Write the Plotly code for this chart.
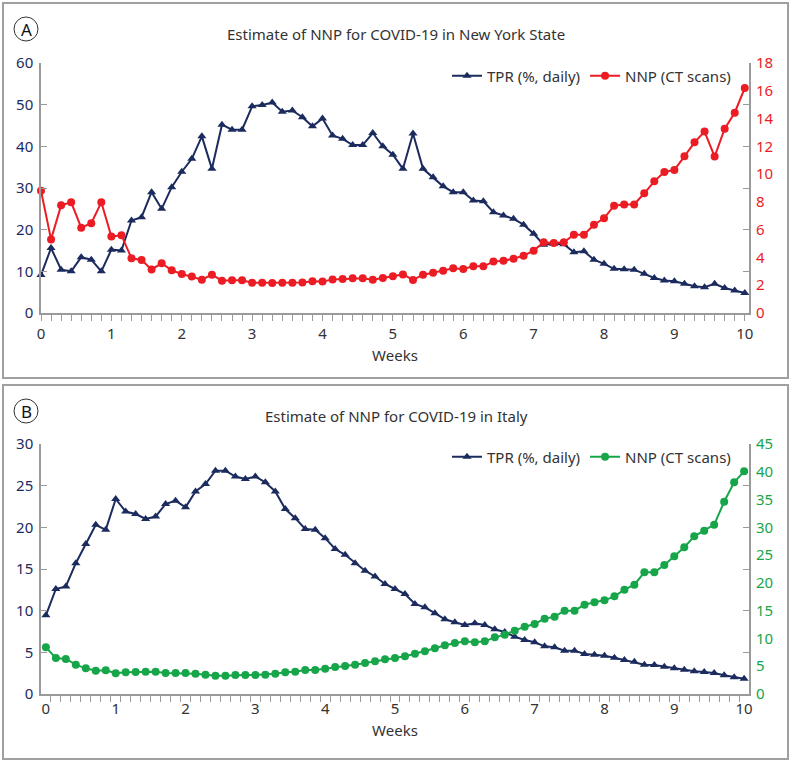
import plotly.graph_objects as go

W, H = 792, 763

# daily points, shown on a weeks axis
days = list(range(71))
weeks = [d / 7 for d in days]

ny_tpr = [9.1, 15.6, 10.4, 10.0, 13.4, 12.8, 10.0, 15.2, 15.0, 22.2,
          23.0, 29.0, 25.0, 30.2, 33.9, 37.0, 42.4, 34.6, 45.2, 44.0,
          44.0, 49.6, 49.9, 50.5, 48.3, 48.6, 47.0, 44.8, 46.7, 42.6,
          41.8, 40.3, 40.3, 43.2, 40.0, 38.0, 34.6, 43.1, 34.6, 32.6,
          30.4, 29.0, 29.0, 27.0, 26.8, 24.2, 23.4, 22.6, 21.2, 19.0,
          16.4, 16.6, 16.5, 14.6, 14.8, 12.8, 11.8, 10.6, 10.5, 10.4,
          9.4, 8.4, 7.8, 7.6, 7.0, 6.4, 6.2, 7.0, 6.0, 5.4,
          4.8]
ny_nnp = [8.8, 5.3, 7.75, 7.97, 6.14, 6.46, 7.97, 5.5, 5.6, 3.94,
          3.82, 3.14, 3.58, 3.07, 2.81, 2.62, 2.40, 2.76, 2.33, 2.35,
          2.35, 2.18, 2.18, 2.16, 2.18, 2.18, 2.2, 2.28, 2.26, 2.42,
          2.45, 2.5, 2.5, 2.4, 2.52, 2.64, 2.78, 2.38, 2.76, 2.9,
          3.05, 3.22, 3.17, 3.36, 3.36, 3.7, 3.77, 3.91, 4.13, 4.49,
          5.09, 5.04, 5.09, 5.64, 5.64, 6.36, 6.82, 7.73, 7.82, 7.82,
          8.62, 9.48, 10.15, 10.3, 11.28, 12.29, 13.06, 11.26, 13.27, 14.42,
          16.2]

it_tpr = [9.44, 12.6, 12.9, 15.7, 18.0, 20.3, 19.7, 23.4, 21.9, 21.6,
          21.0, 21.3, 22.8, 23.2, 22.4, 24.3, 25.2, 26.8, 26.8, 26.1,
          25.8, 26.1, 25.4, 24.3, 22.2, 21.1, 19.8, 19.7, 18.7, 17.4,
          16.7, 15.7, 14.8, 14.1, 13.2, 12.6, 12.0, 10.8, 10.4, 9.7,
          8.96, 8.6, 8.28, 8.48, 8.28, 7.76, 7.44, 6.88, 6.48, 6.2,
          5.72, 5.6, 5.2, 5.2, 4.8, 4.72, 4.6, 4.36, 4.08, 3.88,
          3.52, 3.48, 3.28, 3.08, 2.92, 2.72, 2.64, 2.52, 2.24, 2.0,
          1.84]
it_nnp = [8.4, 6.48, 6.3, 5.28, 4.62, 4.2, 4.26, 3.72, 3.9, 3.96,
          4.02, 4.02, 3.78, 3.78, 3.78, 3.66, 3.48, 3.3, 3.3, 3.42,
          3.42, 3.42, 3.48, 3.66, 3.9, 4.02, 4.32, 4.32, 4.56, 4.86,
          5.04, 5.28, 5.58, 5.88, 6.24, 6.48, 6.78, 7.26, 7.68, 8.22,
          8.76, 9.18, 9.48, 9.3, 9.48, 10.2, 10.68, 11.4, 12.12, 12.6,
          13.56, 13.92, 15.0, 15.0, 16.08, 16.5, 16.86, 17.58, 18.78, 19.68,
          21.9, 21.9, 23.22, 24.78, 26.4, 28.38, 29.4, 30.48, 34.6, 38.1,
          40.08]

titles = ['Estimate of NNP for COVID-19 in New York State',
          'Estimate of NNP for COVID-19 in Italy']
panel_labels = ['A', 'B']

NAVY = '#1c2b5e'
RED = '#ec1c24'
GREEN = '#17a54a'
AXIS = '#9a9a9a'
TEXT = '#333333'
FONT = 'Noto Sans'


def py(px):
    """Convert a pixel row (from top) into paper y."""
    return 1 - px / H


def px_x(px):
    return px / W


fig = go.Figure()

# panel A
fig.add_trace(go.Scatter(x=weeks, y=ny_tpr, mode='lines+markers', name='TPR (%, daily)',
                         line=dict(color=NAVY, width=2), cliponaxis=False,
                         marker=dict(symbol='triangle-up', size=8, color=NAVY),
                         xaxis='x', yaxis='y', legend='legend'))
fig.add_trace(go.Scatter(x=weeks, y=ny_nnp, mode='lines+markers', name='NNP (CT scans)',
                         line=dict(color=RED, width=2), cliponaxis=False,
                         marker=dict(symbol='circle', size=8, color=RED),
                         xaxis='x', yaxis='y2', legend='legend'))
# panel B
fig.add_trace(go.Scatter(x=weeks, y=it_tpr, mode='lines+markers', name='TPR (%, daily)',
                         line=dict(color=NAVY, width=2), cliponaxis=False,
                         marker=dict(symbol='triangle-up', size=8, color=NAVY),
                         xaxis='x2', yaxis='y3', legend='legend2'))
fig.add_trace(go.Scatter(x=weeks, y=it_nnp, mode='lines+markers', name='NNP (CT scans)',
                         line=dict(color=GREEN, width=2), cliponaxis=False,
                         marker=dict(symbol='circle', size=8, color=GREEN),
                         xaxis='x2', yaxis='y4', legend='legend2'))

xdom = [px_x(41), px_x(749)]
dom_a = [py(313), py(63)]
dom_b = [py(694), py(444)]

xcommon = dict(domain=xdom, showline=True, linecolor=AXIS, linewidth=1.5, automargin=False,
               showgrid=False, zeroline=False, tickmode='linear', dtick=1,
               tickfont=dict(family=FONT, size=15, color=TEXT),
               title=dict(text='Weeks', font=dict(family=FONT, size=15, color=TEXT), standoff=9))
ycommon = dict(showline=True, linecolor=AXIS, linewidth=1.5, showgrid=False, zeroline=False,
               ticks='inside', ticklen=6, tickcolor=AXIS, mirror='ticks', automargin=False,
               ticklabelstandoff=3,
               tickfont=dict(family=FONT, size=15, color=NAVY))
y2common = dict(side='right', showline=False, showgrid=False, zeroline=False,
                ticks='', automargin=False, ticklabelstandoff=6)
legcommon = dict(orientation='h', xanchor='right', yanchor='middle', x=px_x(736),
                 bgcolor='rgba(0,0,0,0)', font=dict(family=FONT, size=15, color=TEXT),
                 itemwidth=30, tracegroupgap=0)

fig.update_layout(
    template='none',
    width=W, height=H, margin=dict(l=0, r=0, t=0, b=0, autoexpand=False),
    paper_bgcolor='white', plot_bgcolor='white',
    font=dict(family=FONT, color=TEXT),
    xaxis=dict(xcommon, anchor='y', range=[0, 10.06], ticks='outside', ticklen=6,
               tickcolor=AXIS,
               minor=dict(dtick=1 / 7, tick0=0, ticks='outside', ticklen=6, tickcolor=AXIS)),
    yaxis=dict(ycommon, domain=dom_a, range=[0, 60], dtick=10, anchor='x'),
    yaxis2=dict(y2common, overlaying='y', anchor='x', range=[0, 18], dtick=2,
                tickfont=dict(family=FONT, size=15, color=RED)),
    xaxis2=dict(xcommon, anchor='y3', range=[-0.07, 10.07], ticks='',
                minor=dict(dtick=1 / 7, tick0=-1 / 14, ticks='outside', ticklen=6,
                           tickcolor=AXIS)),
    yaxis3=dict(ycommon, domain=dom_b, range=[0, 30], dtick=5, anchor='x2'),
    yaxis4=dict(y2common, overlaying='y3', anchor='x2', range=[0, 45], dtick=5,
                tickfont=dict(family=FONT, size=15, color=GREEN)),
    legend=dict(legcommon, y=py(76)),
    legend2=dict(legcommon, y=py(457)),
)

# panel frames, circled labels and titles
frames = [(3, 3, 788, 378), (3, 385, 788, 759)]
for (x0, y0, x1, y1), label, title in zip(frames, panel_labels, titles):
    fig.add_shape(type='rect', xref='paper', yref='paper',
                  x0=px_x(x0), x1=px_x(x1), y0=py(y1), y1=py(y0),
                  line=dict(color='#a0a0a0', width=2))
    cy = y0 + 26
    fig.add_shape(type='circle', xref='paper', yref='paper',
                  x0=px_x(14), x1=px_x(38), y0=py(cy + 12), y1=py(cy - 12),
                  line=dict(color='#333333', width=1))
    fig.add_annotation(text=label, xref='paper', yref='paper', x=px_x(26), y=py(cy),
                       xanchor='center', yanchor='middle',
                       showarrow=False, font=dict(family=FONT, size=17, color='#111111'))
    fig.add_annotation(text=title, xref='paper', yref='paper', x=px_x(396), y=py(y0 + 31),
                       xanchor='center', yanchor='middle',
                       showarrow=False, font=dict(family=FONT, size=15, color=TEXT))

# the page body has a default margin; drop it so the figure fills the window
fig.write_html('out.html', config={'displayModeBar': False},
               post_script="document.body.style.margin = '0';")
